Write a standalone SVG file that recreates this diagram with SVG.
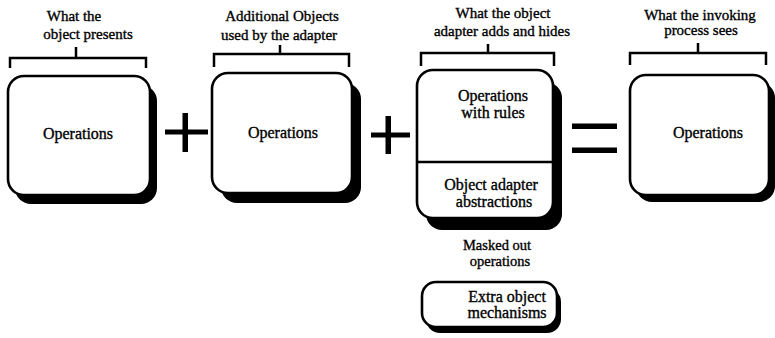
<svg xmlns="http://www.w3.org/2000/svg" width="775" height="338" viewBox="0 0 775 338">
<style>
.bg{fill:#fff}
.shadow{fill:#000}
.box{fill:#fff;stroke:#000;stroke-width:2.6}
.br{fill:none;stroke:#000;stroke-width:2.5}
.op{fill:#000}
text{font-family:"Liberation Serif","Times New Roman",serif;fill:#000;stroke:#000;stroke-width:0.35;text-anchor:middle}
.h{font-size:15px}
.m{font-size:14.5px}
.l{font-size:16px}
</style>
<rect class="bg" x="0" y="0" width="775" height="338"/>
<g id="connectors">
  <path class="br" d="M10,68 V58 H146 V68 M76,58 V47"/>
  <path class="br" d="M214,67 V54 H349 V67 M280,54 V45"/>
  <path class="br" d="M421,66 V53 H554 V66 M488,53 V44"/>
  <path class="br" d="M630,65 V53 H766 V65 M698,53 V43"/>
</g>
<g id="operators">
  <rect class="op" x="165" y="129.5" width="43" height="5"/>
  <rect class="op" x="182.5" y="113" width="5.5" height="39"/>
  <rect class="op" x="371" y="132.5" width="39" height="5"/>
  <rect class="op" x="385.5" y="116" width="5.5" height="38"/>
  <rect class="op" x="572" y="123.5" width="45" height="5.5"/>
  <rect class="op" x="572" y="147.5" width="45" height="5.5"/>
</g>
<g id="node-object">
  <text class="h" x="74" y="21">What the</text>
  <text class="h" x="88" y="39">object presents</text>
  <rect class="shadow" x="15" y="85" width="142" height="119" rx="16"/>
  <rect class="box" x="8" y="76" width="142" height="119" rx="16"/>
  <text class="l" x="78" y="139">Operations</text>
</g>
<g id="node-additional">
  <text class="h" x="282" y="21">Additional Objects</text>
  <text class="h" x="279" y="40">used by the adapter</text>
  <rect class="shadow" x="221" y="83" width="140" height="120" rx="16"/>
  <rect class="box" x="212" y="73" width="140" height="120" rx="16"/>
  <text class="l" x="283" y="138">Operations</text>
</g>
<g id="node-adapter">
  <text class="h" x="503" y="18">What the object</text>
  <text class="h" x="502" y="36">adapter adds and hides</text>
  <rect class="shadow" x="426" y="82" width="136" height="148" rx="16"/>
  <rect class="box" x="417" y="70" width="136" height="148" rx="16"/>
  <line x1="417" y1="162" x2="553" y2="162" stroke="#000" stroke-width="2.5"/>
  <text class="l" x="493" y="101">Operations</text>
  <text class="l" x="493" y="118">with rules</text>
  <text class="l" x="491" y="190">Object adapter</text>
  <text class="l" x="494" y="207">abstractions</text>
</g>
<g id="node-masked">
  <text class="m" x="497" y="250">Masked out</text>
  <text class="m" x="500" y="266">operations</text>
  <rect class="shadow" x="426" y="288" width="135" height="45" rx="14"/>
  <rect class="box" x="422" y="282" width="135" height="45" rx="14"/>
  <text class="l" x="507" y="302">Extra object</text>
  <text class="l" x="507" y="318">mechanisms</text>
</g>
<g id="node-invoking">
  <text class="h" x="700" y="20">What the invoking</text>
  <text class="h" x="701" y="35">process sees</text>
  <rect class="shadow" x="636" y="82" width="139" height="120" rx="16"/>
  <rect class="box" x="630" y="75" width="139" height="120" rx="16"/>
  <text class="l" x="708" y="138">Operations</text>
</g>
</svg>
